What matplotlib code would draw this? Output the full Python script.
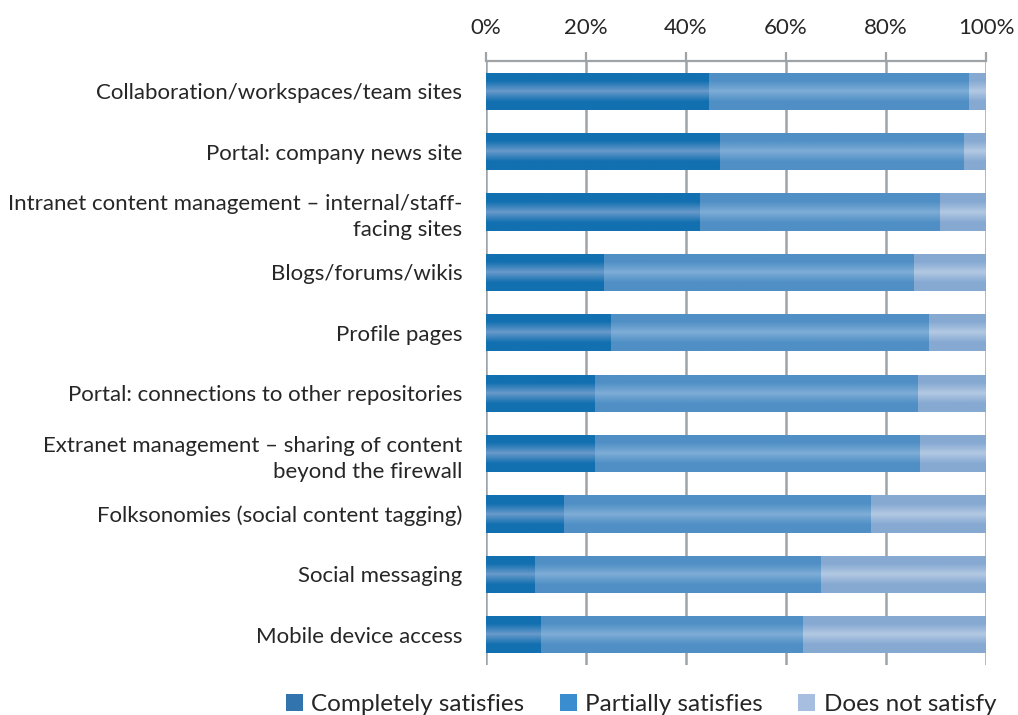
import numpy as np
import matplotlib
matplotlib.use("Agg")
import matplotlib.pyplot as plt
from matplotlib.colors import to_rgb
from matplotlib.patches import Patch

plt.rcParams['font.family'] = ['Lato', 'DejaVu Sans']

categories = [
    "Collaboration/workspaces/team sites",
    "Portal: company news site",
    "Intranet content management \u2013 internal/staff-\nfacing sites",
    "Blogs/forums/wikis",
    "Profile pages",
    "Portal: connections to other repositories",
    "Extranet management \u2013 sharing of content\nbeyond the firewall",
    "Folksonomies (social content tagging)",
    "Social messaging",
    "Mobile device access",
]
completely = [44.6, 46.8, 42.8, 23.6, 25.0, 21.8, 21.8, 15.6, 9.8, 11.0]
partially = [52.0, 48.8, 48.0, 62.0, 63.6, 64.6, 65.0, 61.4, 57.2, 52.4]
not_satisfy = [3.4, 4.4, 9.2, 14.4, 11.4, 13.6, 13.2, 23.0, 33.0, 36.6]
series_names = ["Completely satisfies", "Partially satisfies", "Does not satisfy"]
xticks = [0, 20, 40, 60, 80, 100]

# (edge colour, centre highlight colour, legend swatch)
styles = [
    ("#1270b0", "#6c9bcb", "#3275ae"),
    ("#4f8fc5", "#80aed7", "#3a8ecf"),
    ("#86a9d2", "#b4cae4", "#a8bee0"),
]

fig = plt.figure(figsize=(10.18, 7.15), dpi=100)
ax = fig.add_axes([486 / 1018, 1 - 665 / 715, 500 / 1018, (665 - 61) / 715])

y = np.arange(len(categories))
left = np.zeros(len(categories))
grad_y = np.linspace(0, 1, 64)
w = np.clip(np.abs(grad_y - 0.5) / 0.28, 0, 1) ** 0.9

for vals, (edge, mid, _) in zip([completely, partially, not_satisfy], styles):
    bars = ax.barh(y, vals, left=left, height=0.615, color=edge, linewidth=0, zorder=2)
    e = np.array(to_rgb(edge))
    m = np.array(to_rgb(mid))
    grad = (m[None, :] * (1 - w[:, None]) + e[None, :] * w[:, None])[:, None, :]
    for b in bars:
        x0, y0 = b.get_x(), b.get_y()
        im = ax.imshow(grad, extent=[x0, x0 + b.get_width(), y0 + b.get_height(), y0],
                       aspect='auto', interpolation='bilinear', zorder=2.5)
        im.set_clip_path(b)
    left = left + np.array(vals)

ax.set_xlim(0, 100)
ax.set_ylim(len(categories) - 0.5, -0.5)
ax.set_yticks(y)
ax.set_yticklabels(categories, fontsize=16, color="#262626", linespacing=1.4)
ax.tick_params(axis='y', length=0, pad=17)

ax.xaxis.tick_top()
ax.set_xticks(xticks)
ax.set_xticklabels([f"{t}%" for t in xticks], fontsize=16, color="#262626")
ax.tick_params(axis='x', length=6.5, width=1.6, color="#9ea3a8", pad=10)
ax.grid(axis='x', color="#9ea3a8", linewidth=1.8, zorder=1)
ax.set_axisbelow(True)

for s in ["bottom", "right", "left"]:
    ax.spines[s].set_visible(False)
ax.spines["top"].set_color("#9ea3a8")
ax.spines["top"].set_linewidth(1.6)

handles = [Patch(facecolor=c, edgecolor='none') for _, _, c in styles]
fig.legend(handles, series_names, loc='lower center', bbox_to_anchor=(641 / 1018, -0.03),
           ncol=3, frameon=False, fontsize=17.5, handlelength=0.7, handleheight=0.7,
           handletextpad=0.35, columnspacing=1.45, labelcolor="#262626")

fig.savefig("out.png", dpi=100)
